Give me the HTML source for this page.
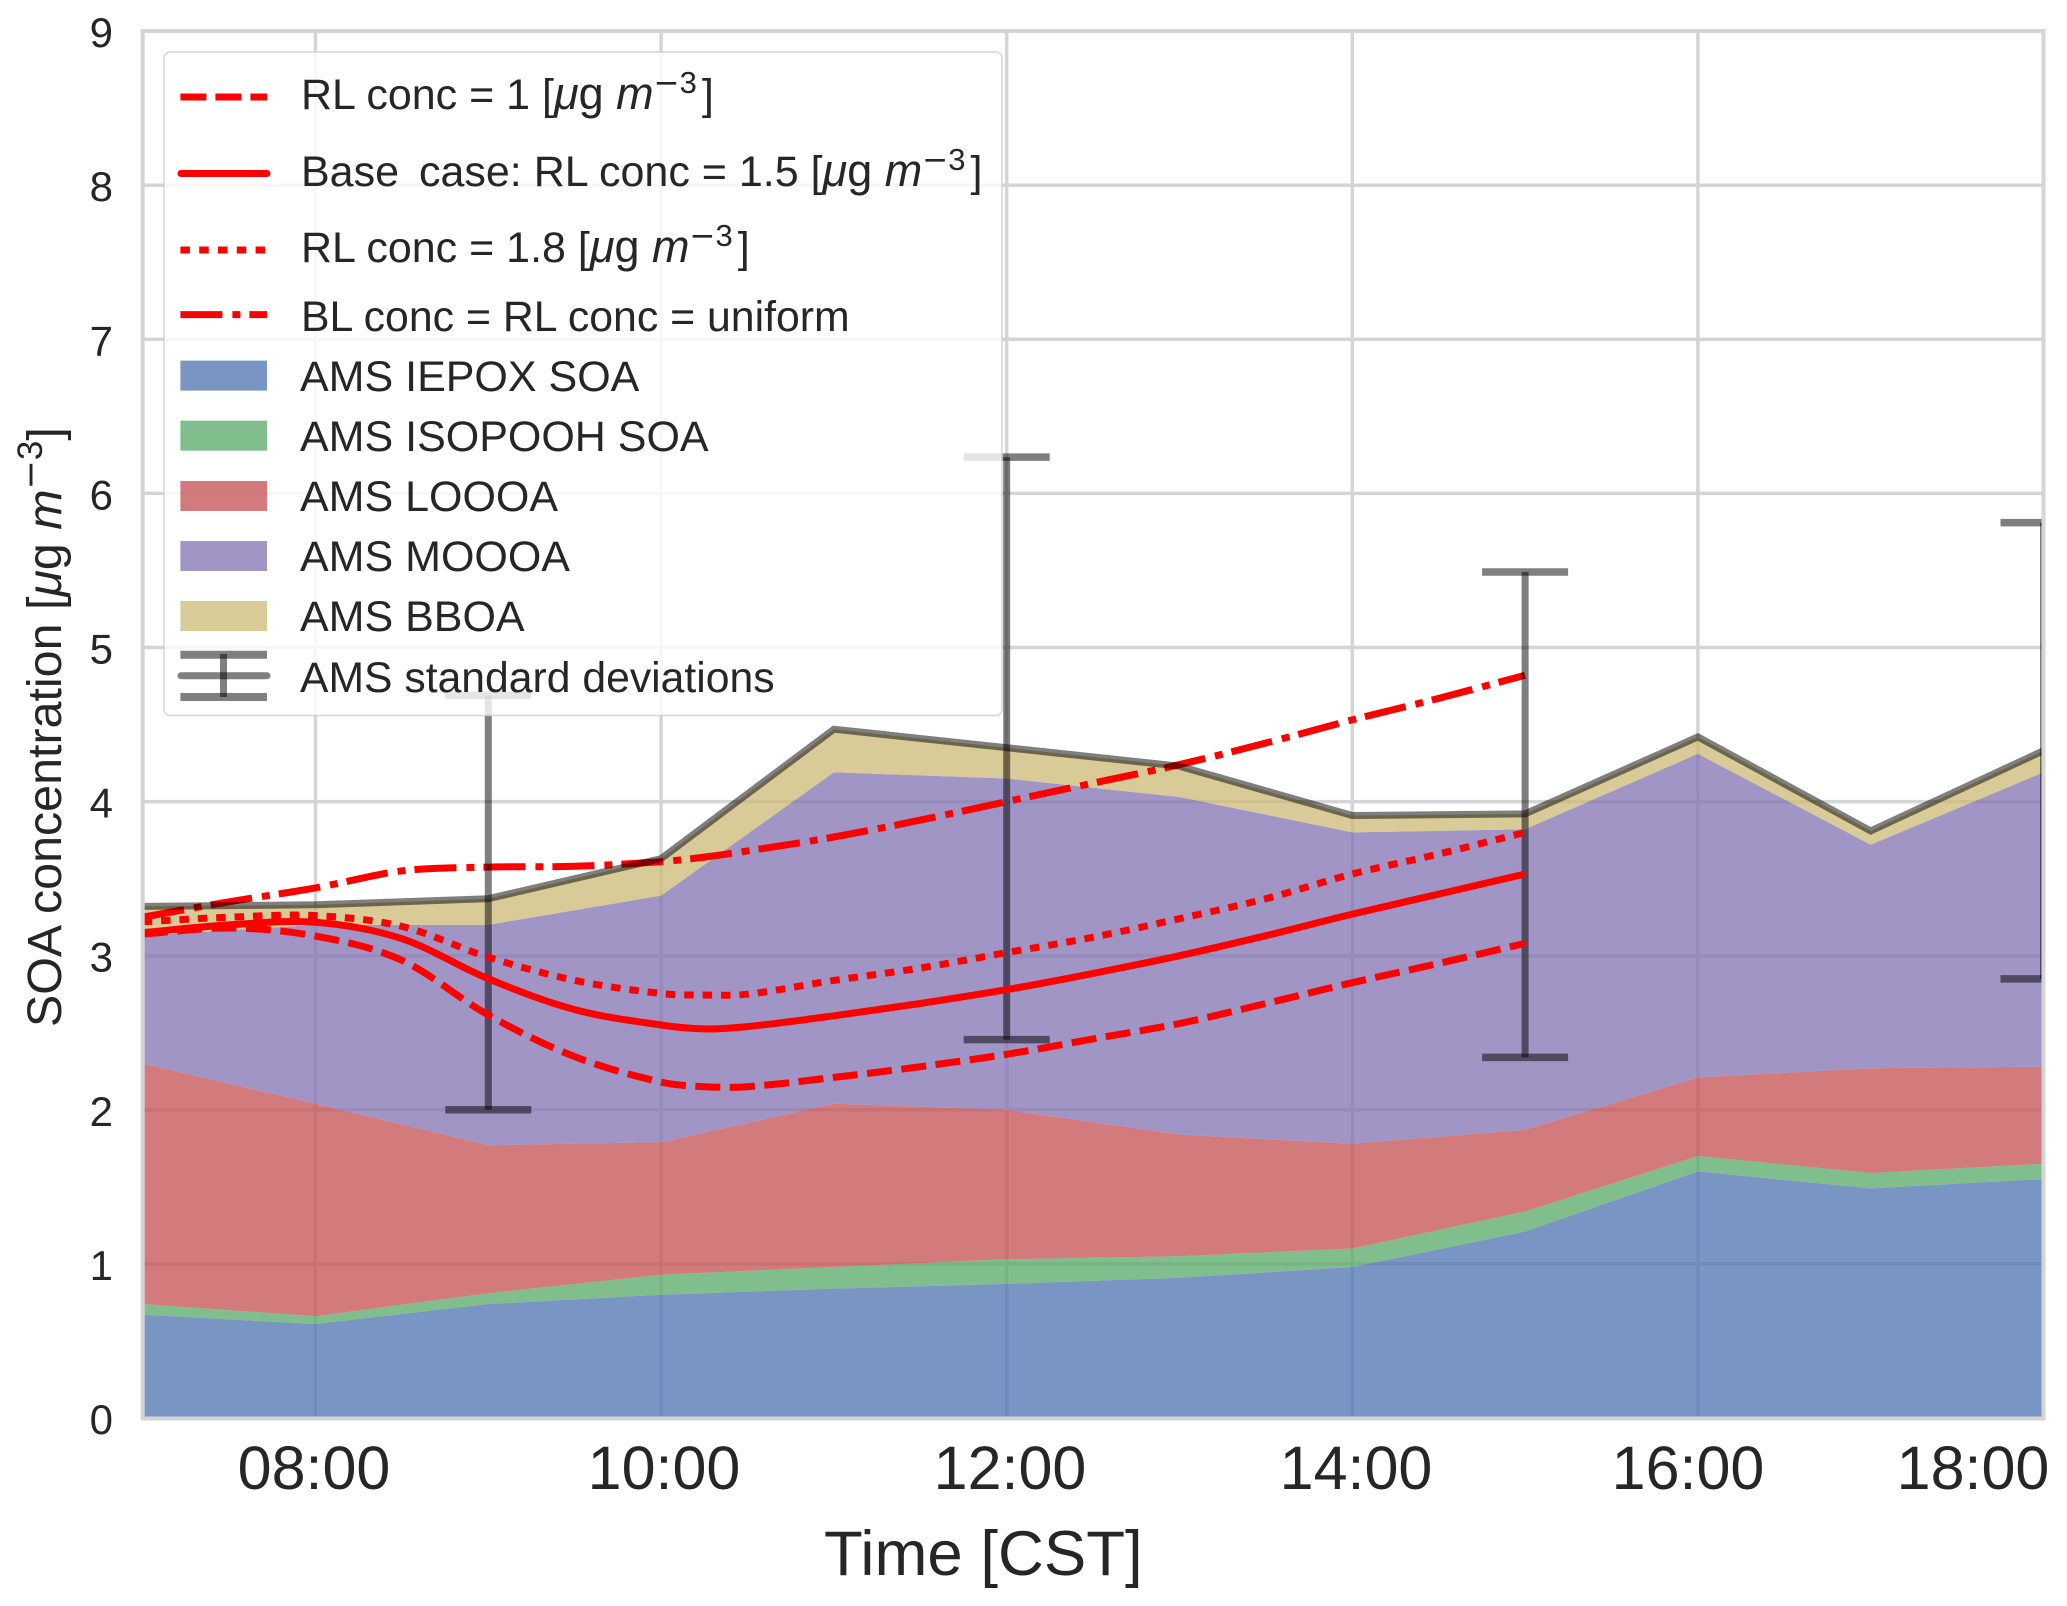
<!DOCTYPE html>
<html>
<head>
<meta charset="utf-8">
<title>SOA concentration chart</title>
<style>
html,body{margin:0;padding:0;background:#fff;}
svg{display:block;}
text{font-family:"Liberation Sans",Arial,sans-serif;fill:#262626;}
.mn{font-family:"DejaVu Sans",sans-serif;}
</style>
</head>
<body>
<svg id="chart" xmlns="http://www.w3.org/2000/svg" width="2067" height="1606" viewBox="0 0 2067 1606">
  <defs>
    <clipPath id="plot-clip"><rect x="142.7" y="31" width="1900.8" height="1387"/></clipPath>
  </defs>
  <g id="grid"></g>
  <g id="stack" clip-path="url(#plot-clip)"></g>
  <g id="lines-under" clip-path="url(#plot-clip)"></g>
  <g id="obs" clip-path="url(#plot-clip)"></g>
  <g id="lines-over" clip-path="url(#plot-clip)"></g>
  <g id="spines" fill="none" stroke="#d5d5d5" stroke-width="4">
    <rect x="142.7" y="31" width="1900.8" height="1387.5"/>
  </g>
  <g id="y-ticks"></g>

  <g font-size="61" text-anchor="middle">
    <text x="314" y="1489" fill="#1a1a1a">08:00</text>
    <text x="664" y="1489" fill="#1a1a1a">10:00</text>
    <text x="1010" y="1489" fill="#1a1a1a">12:00</text>
    <text x="1356" y="1489" fill="#1a1a1a">14:00</text>
    <text x="1688" y="1489" fill="#1a1a1a">16:00</text>
    <text x="1973" y="1489" fill="#1a1a1a">18:00</text>
  </g>
  <text x="824" y="1575" font-size="63.5">Time [CST]</text>
  <text transform="translate(61,1027) rotate(-90)" font-size="48.4">SOA concentration [<tspan font-style="italic">μ</tspan>g <tspan font-style="italic">m</tspan><tspan dy="-19" font-size="35"><tspan class="mn">−</tspan>3</tspan><tspan dy="19">]</tspan></text>

  <g>
    <rect x="164" y="52" width="838" height="663.5" rx="6" ry="6" fill="#ffffff" fill-opacity="0.8" stroke="#cccccc" stroke-opacity="0.8" stroke-width="1.5"/>
    <g>
      <line x1="180.4" x2="267" y1="97" y2="97" stroke="#ff0000" stroke-width="7" stroke-dasharray="26 9"/>
      <text x="301" y="109" font-size="43">RL conc = 1 [<tspan font-size="45" font-style="italic">μ</tspan><tspan font-size="45">g </tspan><tspan font-size="45" font-style="italic">m</tspan><tspan dy="-16" font-size="31"><tspan class="mn">−</tspan>3</tspan><tspan dy="16" dx="5">]</tspan></text>
    </g>
    <g>
      <line x1="181" x2="267" y1="173.5" y2="173.5" stroke="#ff0000" stroke-width="7" stroke-linecap="round"/>
      <text x="301" y="186" font-size="43">Base<tspan dx="8"> case:</tspan> RL conc = 1.5 [<tspan font-size="45" font-style="italic">μ</tspan><tspan font-size="45">g </tspan><tspan font-size="45" font-style="italic">m</tspan><tspan dy="-16" font-size="31"><tspan class="mn">−</tspan>3</tspan><tspan dy="16" dx="5">]</tspan></text>
    </g>
    <g>
      <line x1="180.4" x2="267" y1="250" y2="250" stroke="#ff0000" stroke-width="7" stroke-dasharray="9.5 9.3"/>
      <text x="301" y="262" font-size="43">RL conc = 1.8 [<tspan font-size="45" font-style="italic">μ</tspan><tspan font-size="45">g </tspan><tspan font-size="45" font-style="italic">m</tspan><tspan dy="-16" font-size="31"><tspan class="mn">−</tspan>3</tspan><tspan dy="16" dx="5">]</tspan></text>
    </g>
    <g>
      <line x1="180.4" x2="267" y1="314.6" y2="314.6" stroke="#ff0000" stroke-width="7" stroke-dasharray="42 10 8 9"/>
      <text x="301" y="331" font-size="42.8">BL conc = RL conc = uniform</text>
    </g>
    <g>
      <rect x="180.4" y="360.6" width="86.6" height="30" fill="#4C72B0" fill-opacity="0.75"/>
      <text x="300" y="391" font-size="43">AMS IEPOX SOA</text>
    </g>
    <g>
      <rect x="180.4" y="420.7" width="86.6" height="30" fill="#55A868" fill-opacity="0.75"/>
      <text x="300" y="451" font-size="43">AMS ISOPOOH SOA</text>
    </g>
    <g>
      <rect x="180.4" y="481" width="86.6" height="30" fill="#C44E52" fill-opacity="0.75"/>
      <text x="300" y="511" font-size="43">AMS LOOOA</text>
    </g>
    <g>
      <rect x="180.4" y="541" width="86.6" height="30" fill="#8172B2" fill-opacity="0.75"/>
      <text x="300" y="571" font-size="43">AMS MOOOA</text>
    </g>
    <g>
      <rect x="180.4" y="601" width="86.6" height="30" fill="#CCB974" fill-opacity="0.75"/>
      <text x="300" y="631" font-size="43">AMS BBOA</text>
    </g>
    <g>
      <g stroke="#000000" stroke-opacity="0.5">
        <line x1="180.4" x2="267" y1="654.7" y2="654.7" stroke-width="8"/>
        <line x1="180.4" x2="267" y1="697" y2="697" stroke-width="8"/>
        <line x1="181" x2="267" y1="675.7" y2="675.7" stroke-width="7" stroke-linecap="round"/>
        <line x1="223.5" x2="223.5" y1="654" y2="697" stroke-width="7"/>
      </g>
      <text x="300" y="692" font-size="42.7">AMS standard deviations</text>
    </g>
  </g>
</svg>
<script>
// ---- stacked-area data (one value per hour, component concentrations)
const hours        = [7, 8, 9, 10, 11, 12, 13, 14, 15, 16, 17, 18];
const iepoxValues  = [0.67, 0.61, 0.74, 0.80, 0.84, 0.87, 0.91, 0.98, 1.21, 1.60, 1.49, 1.55];
const isopoohValues= [0.07, 0.05, 0.07, 0.13, 0.14, 0.16, 0.14, 0.12, 0.13, 0.10, 0.10, 0.10];
const loooaValues  = [1.56, 1.38, 0.96, 0.86, 1.06, 0.97, 0.79, 0.68, 0.53, 0.51, 0.68, 0.63];
const moooaValues  = [0.83, 1.16, 1.43, 1.60, 2.15, 2.15, 2.19, 2.02, 1.95, 2.10, 1.45, 1.91];
const bboaValues   = [0.19, 0.13, 0.17, 0.24, 0.28, 0.20, 0.20, 0.11, 0.10, 0.11, 0.09, 0.14];

// ---- observation error bars
const errorHours = [9, 12, 15, 18];
const errorLow   = [2.00, 2.455, 2.34, 2.85];
const errorHigh  = [4.69, 6.235, 5.49, 5.81];

// ---- model lines
const modelHours  = [7, 7.5, 8, 8.5, 9, 9.5, 10, 10.25, 10.5, 11, 11.5, 12, 12.5, 13, 13.5, 14, 14.5, 15];
const rlConc1     = [3.14, 3.18, 3.127, 2.97, 2.615, 2.345, 2.18, 2.15, 2.15, 2.21, 2.28, 2.36, 2.46, 2.56, 2.69, 2.825, 2.95, 3.08];
const baseCase    = [3.15, 3.20, 3.217, 3.11, 2.85, 2.65, 2.55, 2.525, 2.54, 2.61, 2.69, 2.78, 2.885, 3.00, 3.13, 3.27, 3.40, 3.53];
const rlConc18    = [3.22, 3.25, 3.26, 3.19, 2.99, 2.84, 2.755, 2.745, 2.75, 2.84, 2.92, 3.02, 3.12, 3.24, 3.37, 3.53, 3.66, 3.80];
const uniformConc = [3.25, 3.35, 3.44, 3.55, 3.575, 3.58, 3.61, 3.64, 3.68, 3.77, 3.88, 4.00, 4.12, 4.24, 4.38, 4.53, 4.67, 4.82];

// ---- ticks
const yTickValues = [0, 1, 2, 3, 4, 5, 6, 7, 8, 9];
const xGridHours  = [8, 10, 12, 14, 16];

const NS = 'http://www.w3.org/2000/svg';
function xScale(h) { return 142.7 + 172.8 * (h - 7); }
function yScale(v) { return 1418 - 154.1 * v; }
function make(tag, parent) {
  const el = document.createElementNS(NS, tag);
  parent.appendChild(el);
  return el;
}
function smoothPath(xs, ys) {
  const p = xs.map(function (h, i) { return [xScale(h), yScale(ys[i])]; });
  let d = 'M' + p[0][0].toFixed(1) + ' ' + p[0][1].toFixed(1);
  for (let i = 0; i < p.length - 1; i++) {
    const a = p[Math.max(i - 1, 0)], b = p[i], c = p[i + 1], e = p[Math.min(i + 2, p.length - 1)];
    const seg = c[0] - b[0];
    const m1 = (c[1] - a[1]) / Math.max(c[0] - a[0], 1);
    const m2 = (e[1] - b[1]) / Math.max(e[0] - b[0], 1);
    const c1x = b[0] + seg / 3, c1y = b[1] + m1 * seg / 3;
    const c2x = c[0] - seg / 3, c2y = c[1] - m2 * seg / 3;
    d += 'C' + c1x.toFixed(1) + ' ' + c1y.toFixed(1) + ' ' + c2x.toFixed(1) + ' ' + c2y.toFixed(1) + ' ' + c[0].toFixed(1) + ' ' + c[1].toFixed(1);
  }
  return d;
}

// grid
const gridG = document.getElementById('grid');
yTickValues.slice(1, -1).forEach(function (v) {
  const ln = make('line', gridG);
  
  
  ln.setAttribute('x1', xScale(7));
  ln.setAttribute('x2', xScale(18));
  ln.setAttribute('y1', yScale(v));
  ln.setAttribute('y2', yScale(v));
  ln.setAttribute('stroke', '#d5d5d5');
  ln.setAttribute('stroke-width', '3.5');
});
xGridHours.forEach(function (h) {
  const ln = make('line', gridG);
  
  
  ln.setAttribute('x1', xScale(h));
  ln.setAttribute('x2', xScale(h));
  ln.setAttribute('y1', yScale(9));
  ln.setAttribute('y2', yScale(0));
  ln.setAttribute('stroke', '#d5d5d5');
  ln.setAttribute('stroke-width', '3.5');
});

// stacked areas
const stackG = document.getElementById('stack');
const layers = [
  { name: 'area-iepox',   values: iepoxValues,   color: '#4C72B0' },
  { name: 'area-isopooh', values: isopoohValues, color: '#55A868' },
  { name: 'area-loooa',   values: loooaValues,   color: '#C44E52' },
  { name: 'area-moooa',   values: moooaValues,   color: '#8172B2' },
  { name: 'area-bboa',    values: bboaValues,    color: '#CCB974' }
];
let lower = hours.map(function () { return 0; });
layers.forEach(function (layer) {
  const upper = lower.map(function (b, i) { return b + layer.values[i]; });
  const pts = [];
  hours.forEach(function (h, i) { pts.push(xScale(h).toFixed(1) + ',' + yScale(upper[i]).toFixed(1)); });
  for (let i = hours.length - 1; i >= 0; i--) { pts.push(xScale(hours[i]).toFixed(1) + ',' + yScale(lower[i]).toFixed(1)); }
  const poly = make('polygon', stackG);
  
  
  poly.setAttribute('points', pts.join(' '));
  poly.setAttribute('fill', layer.color);
  poly.setAttribute('fill-opacity', '0.75');
  lower = upper;
});
const totals = lower;

// model lines
function drawModel(group, values, name, dash) {
  const path = make('path', group);
  
  
  path.setAttribute('d', smoothPath(modelHours, values));
  path.setAttribute('fill', 'none');
  path.setAttribute('stroke', '#ff0000');
  path.setAttribute('stroke-width', '7');
  if (dash) { path.setAttribute('stroke-dasharray', dash); }
}
const underG = document.getElementById('lines-under');
const overG = document.getElementById('lines-over');
drawModel(underG, uniformConc, 'line-uniform', '42 10 8 9');
drawModel(overG, rlConc1, 'line-rl-conc-1', '25 9.5');
drawModel(overG, baseCase, 'line-base-case', null);
drawModel(overG, rlConc18, 'line-rl-conc-1-8', '9.5 8.9');

// observation total line + error bars
const obsG = document.getElementById('obs');
const totalLine = make('polyline', obsG);


totalLine.setAttribute('points', hours.map(function (h, i) { return xScale(h).toFixed(1) + ',' + yScale(totals[i]).toFixed(1); }).join(' '));
totalLine.setAttribute('fill', 'none');
totalLine.setAttribute('stroke', '#000000');
totalLine.setAttribute('stroke-opacity', '0.5');
totalLine.setAttribute('stroke-width', '7');
errorHours.forEach(function (h, i) {
  const cx = xScale(h), top = yScale(errorHigh[i]), bot = yScale(errorLow[i]);
  const bar = make('g', obsG);
  
  
  bar.setAttribute('stroke', '#000000');
  bar.setAttribute('stroke-opacity', '0.5');
  const stem = make('line', bar);
  stem.setAttribute('x1', cx);
  stem.setAttribute('x2', cx);
  stem.setAttribute('y1', top);
  stem.setAttribute('y2', bot);
  stem.setAttribute('stroke-width', '7');
  [top, bot].forEach(function (yy) {
    const cap = make('line', bar);
    cap.setAttribute('x1', cx - 43);
    cap.setAttribute('x2', cx + 43);
    cap.setAttribute('y1', yy);
    cap.setAttribute('y2', yy);
    cap.setAttribute('stroke-width', '7.5');
  });
});

// y tick labels
const yG = document.getElementById('y-ticks');
yTickValues.forEach(function (v) {
  const t = make('text', yG);
  
  
  t.setAttribute('x', '113');
  t.setAttribute('y', yScale(v) + 16);
  t.setAttribute('font-size', '42');
  t.setAttribute('text-anchor', 'end');
  t.textContent = String(v);
});
</script>
</body>
</html>
